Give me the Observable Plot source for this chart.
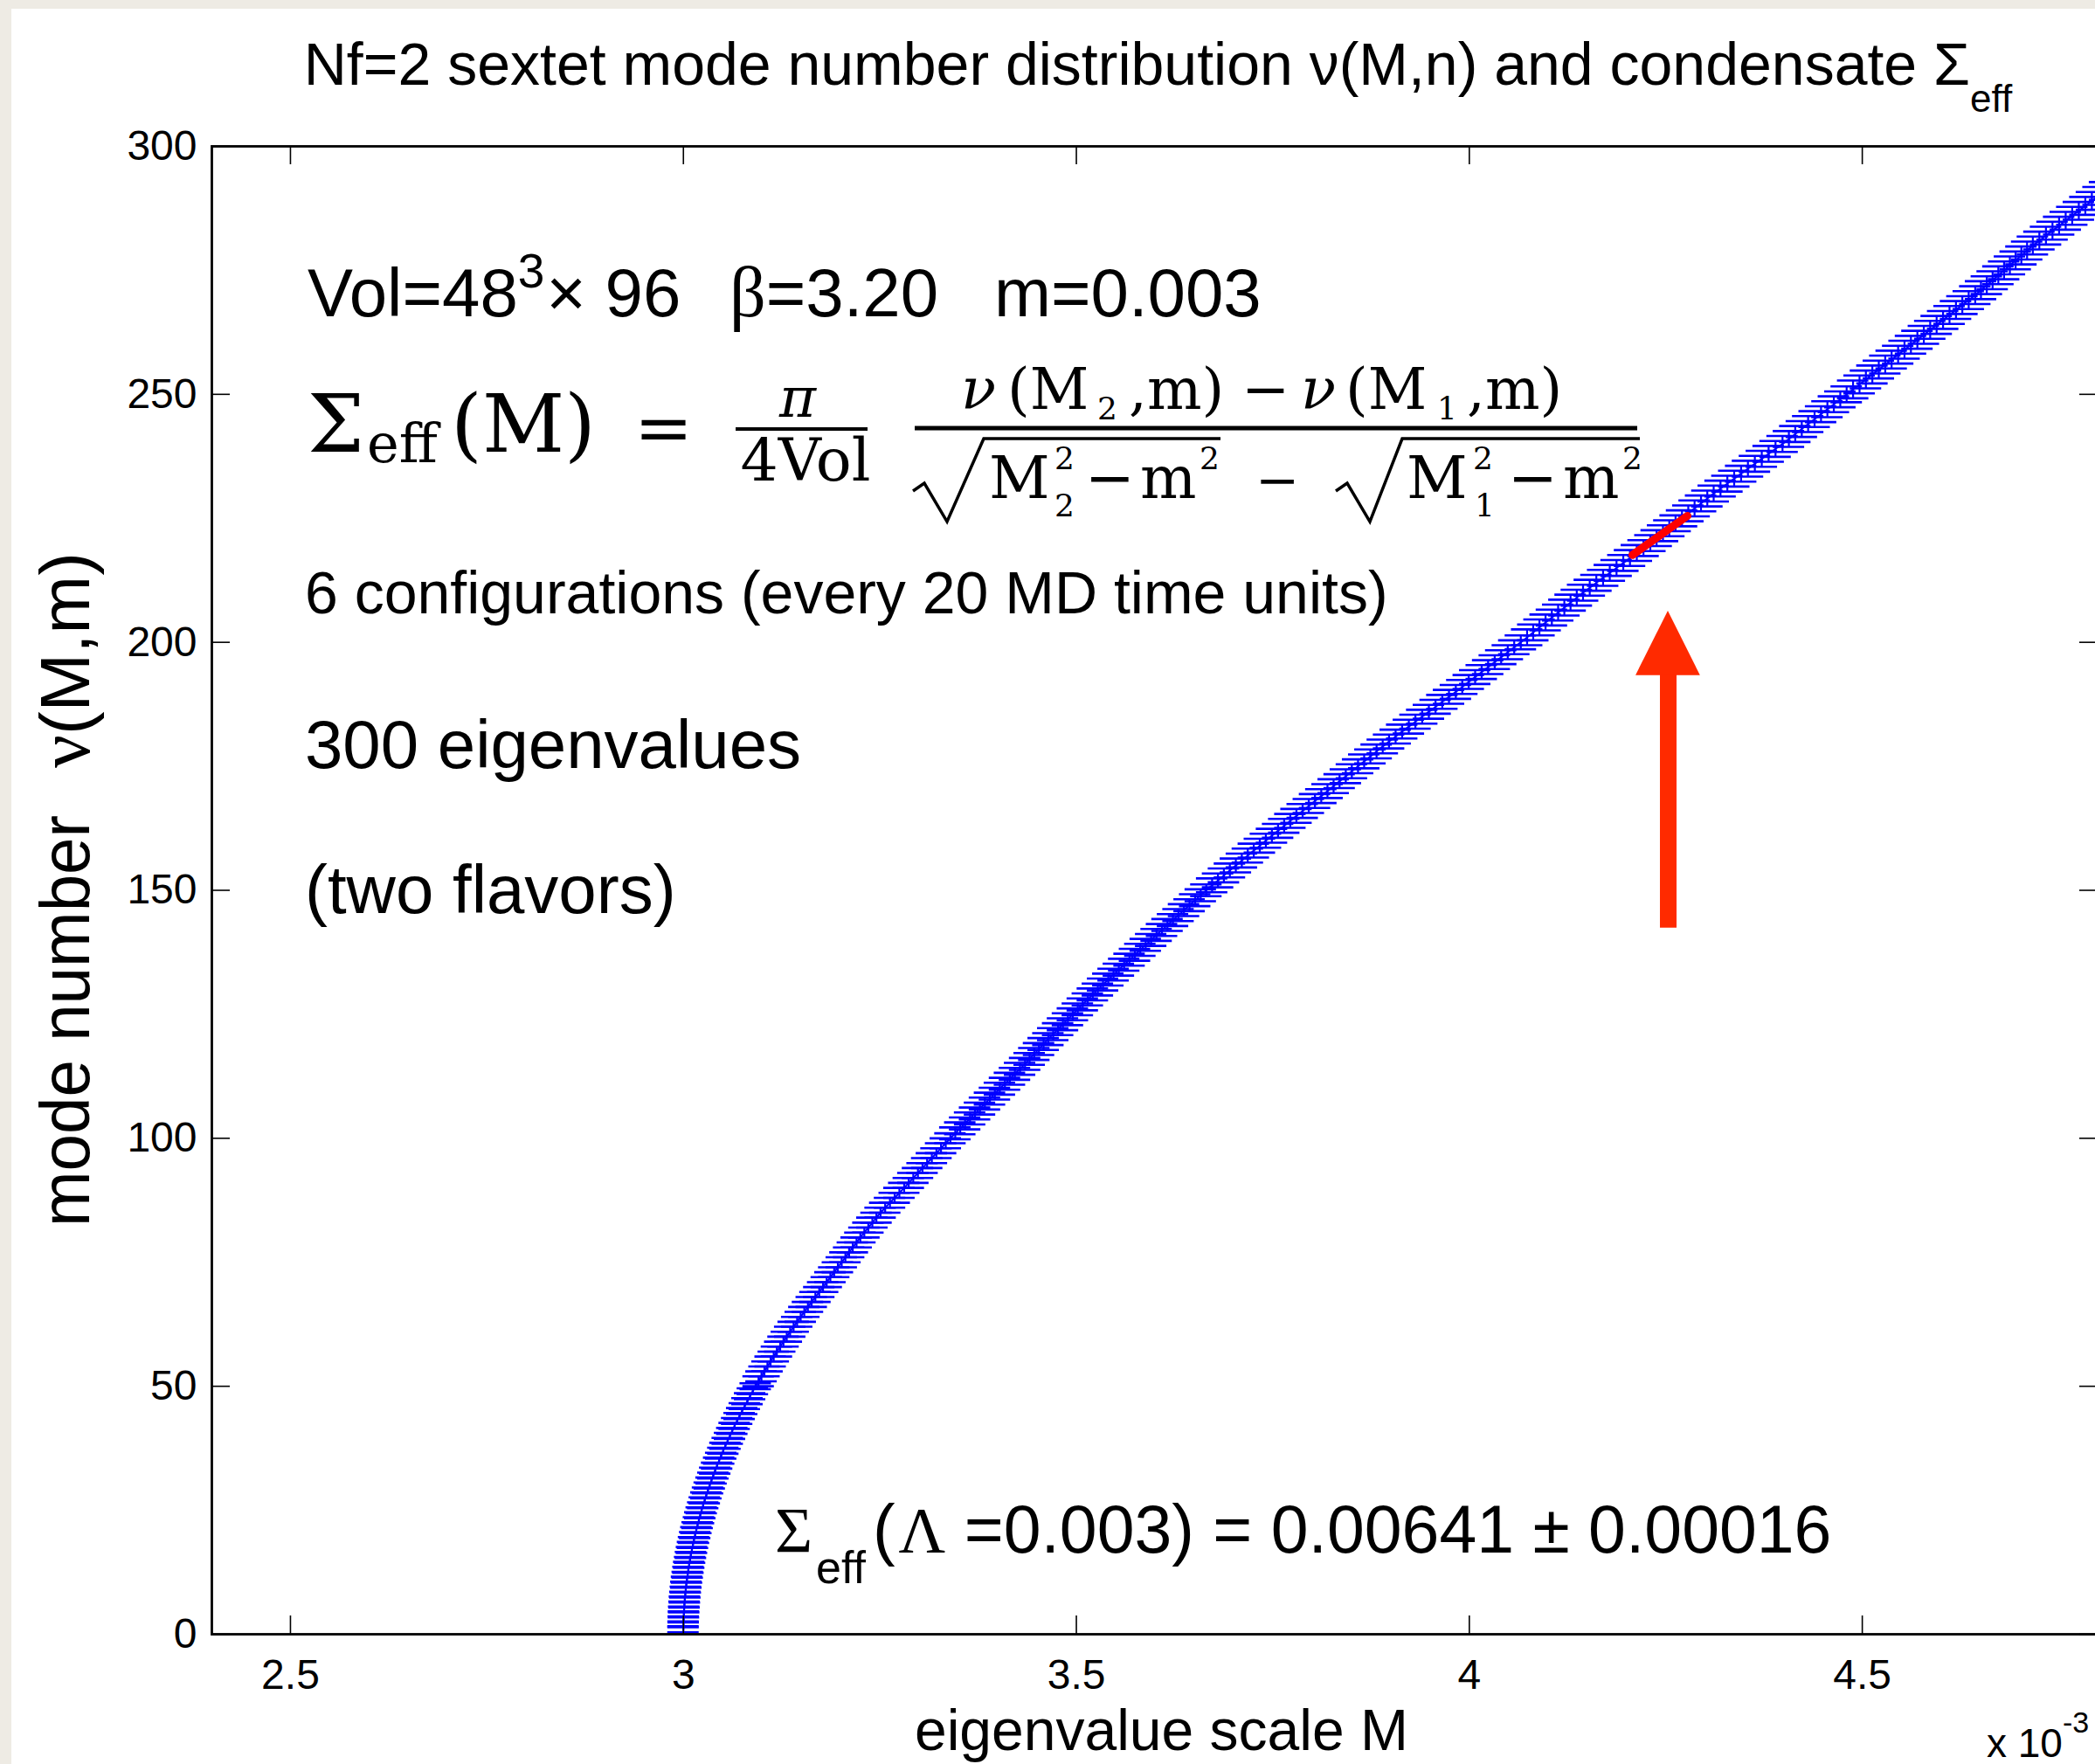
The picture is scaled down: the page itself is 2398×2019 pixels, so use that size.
<!DOCTYPE html>
<html>
<head>
<meta charset="utf-8">
<script src="https://cdn.jsdelivr.net/npm/d3@7"></script>
<script src="https://cdn.jsdelivr.net/npm/@observablehq/plot@0.6"></script>
<style>
  html, body { margin: 0; padding: 0; width: 2398px; height: 2019px; overflow: hidden; background: #eeebe4; }
  #sheet { position: absolute; left: 13px; top: 10px; right: 0; bottom: 0; background: #ffffff; }
  #chart { position: absolute; left: 0; top: 0; }
</style>
</head>
<body>
<div id="sheet"></div>
<div id="chart"></div>
<script>
// Averaged eigenvalue scale M (in units of 1e-3) for mode numbers 1..300
const eigenScale = [
  3.0000, 3.0001, 3.0003, 3.0006, 3.0009, 3.0013, 3.0018, 3.0024, 3.0030, 3.0037,
  3.0045, 3.0054, 3.0063, 3.0073, 3.0084, 3.0095, 3.0108, 3.0121, 3.0134, 3.0149,
  3.0164, 3.0180, 3.0197, 3.0214, 3.0232, 3.0251, 3.0271, 3.0291, 3.0312, 3.0334,
  3.0357, 3.0380, 3.0404, 3.0428, 3.0454, 3.0480, 3.0507, 3.0534, 3.0563, 3.0592,
  3.0621, 3.0651, 3.0683, 3.0714, 3.0747, 3.0780, 3.0814, 3.0848, 3.0883, 3.0919,
  3.0956, 3.0993, 3.1031, 3.1069, 3.1109, 3.1149, 3.1189, 3.1231, 3.1273, 3.1315,
  3.1358, 3.1402, 3.1447, 3.1492, 3.1538, 3.1584, 3.1632, 3.1679, 3.1728, 3.1777,
  3.1823, 3.1870, 3.1918, 3.1965, 3.2014, 3.2061, 3.2108, 3.2155, 3.2203, 3.2251,
  3.2302, 3.2353, 3.2404, 3.2456, 3.2508, 3.2567, 3.2628, 3.2688, 3.2748, 3.2809,
  3.2867, 3.2925, 3.2984, 3.3042, 3.3101, 3.3161, 3.3219, 3.3278, 3.3338, 3.3397,
  3.3459, 3.3522, 3.3584, 3.3647, 3.3710, 3.3773, 3.3836, 3.3900, 3.3963, 3.4026,
  3.4091, 3.4154, 3.4218, 3.4283, 3.4347, 3.4405, 3.4464, 3.4524, 3.4583, 3.4643,
  3.4705, 3.4767, 3.4829, 3.4892, 3.4955, 3.5018, 3.5081, 3.5145, 3.5209, 3.5273,
  3.5339, 3.5406, 3.5473, 3.5540, 3.5608, 3.5676, 3.5745, 3.5813, 3.5882, 3.5951,
  3.6020, 3.6089, 3.6159, 3.6229, 3.6299, 3.6369, 3.6440, 3.6511, 3.6582, 3.6653,
  3.6727, 3.6802, 3.6877, 3.6953, 3.7029, 3.7105, 3.7181, 3.7257, 3.7334, 3.7411,
  3.7488, 3.7566, 3.7644, 3.7722, 3.7800, 3.7879, 3.7957, 3.8036, 3.8116, 3.8195,
  3.8273, 3.8349, 3.8428, 3.8505, 3.8584, 3.8662, 3.8741, 3.8820, 3.8898, 3.8978,
  3.9062, 3.9145, 3.9230, 3.9314, 3.9400, 3.9485, 3.9570, 3.9656, 3.9741, 3.9828,
  3.9910, 3.9992, 4.0074, 4.0157, 4.0239, 4.0323, 4.0405, 4.0489, 4.0571, 4.0655,
  4.0735, 4.0813, 4.0892, 4.0970, 4.1050, 4.1130, 4.1209, 4.1288, 4.1367, 4.1447,
  4.1532, 4.1616, 4.1702, 4.1787, 4.1873, 4.1959, 4.2044, 4.2131, 4.2216, 4.2303,
  4.2383, 4.2464, 4.2544, 4.2624, 4.2706, 4.2786, 4.2866, 4.2948, 4.3028, 4.3109,
  4.3196, 4.3283, 4.3370, 4.3458, 4.3545, 4.3633, 4.3721, 4.3808, 4.3896, 4.3985,
  4.4066, 4.4147, 4.4230, 4.4311, 4.4393, 4.4475, 4.4556, 4.4638, 4.4720, 4.4801,
  4.4883, 4.4965, 4.5046, 4.5128, 4.5210, 4.5292, 4.5373, 4.5456, 4.5537, 4.5619,
  4.5701, 4.5783, 4.5864, 4.5946, 4.6028, 4.6110, 4.6192, 4.6273, 4.6354, 4.6437,
  4.6510, 4.6584, 4.6658, 4.6731, 4.6804, 4.6878, 4.6951, 4.7024, 4.7097, 4.7170,
  4.7253, 4.7337, 4.7420, 4.7504, 4.7588, 4.7671, 4.7755, 4.7838, 4.7921, 4.8005,
  4.8088, 4.8172, 4.8255, 4.8338, 4.8421, 4.8504, 4.8588, 4.8671, 4.8754, 4.8836
];

// Statistical error on the mode number, one value per block of 50 modes
const modeErrorByBlock = [0.6, 1.0, 1.2, 1.4, 1.6, 1.8];

// Half width of the error-bar caps, in units of M
const capHalfWidth = 0.02;

// Fit window used for the condensate (red segment on the curve)
const fitWindow = [
  {M: 4.2075, nu: 217.6},
  {M: 4.2775, nu: 225.5}
];

// Arrow pointing at the fit window
const arrowShaft = [{M: 4.2531, from: 142.4, to: 193.6}];
const arrowHead = [
  {M: 4.212, base: 193.3, tip: 193.3},
  {M: 4.2531, base: 193.3, tip: 206.3},
  {M: 4.294, base: 193.3, tip: 193.3}
];

// Axis ticks
const xTicks = [2.5, 3, 3.5, 4, 4.5];
const yTicks = [0, 50, 100, 150, 200, 250, 300];

const modes = eigenScale.map((M, i) => ({
  M,
  nu: i + 1,
  err: modeErrorByBlock[Math.min(modeErrorByBlock.length - 1, Math.floor(i / 50))]
}));
const caps = modes.flatMap(d => [
  {M: d.M, nu: d.nu - d.err},
  {M: d.M, nu: d.nu + d.err}
]);

const W = 2410, H = 2019;
const mL = 242, mR = 9, mT = 167, mB = 149;
const frameW = W - mL - mR, frameH = H - mT - mB;
const tickLen = 21;
const BLUE = "#0000ff";
const SANS = "'Liberation Sans', Arial, Helvetica, sans-serif";
const SERIF = "'Liberation Serif', 'Times New Roman', serif";
const MATH = "'DejaVu Serif', serif";

const plot = Plot.plot({
  width: W,
  height: H,
  marginLeft: mL,
  marginRight: mR,
  marginTop: mT,
  marginBottom: mB,
  style: {fontFamily: SANS, fontSize: "48px", background: "transparent", maxWidth: "none", overflow: "visible", color: "black"},
  x: {domain: [2.4, 4.8], label: null},
  y: {domain: [0, 300], label: null},
  marks: [
    // error-bar caps
    Plot.ruleY(caps, {y: "nu", x1: d => d.M - capHalfWidth, x2: d => d.M + capHalfWidth, stroke: BLUE, strokeWidth: 2.6, clip: true}),
    // vertical error bars
    Plot.ruleX(modes, {x: "M", y1: d => d.nu - d.err, y2: d => d.nu + d.err, stroke: BLUE, strokeWidth: 2.2, clip: true}),
    // mode number curve
    Plot.line(modes, {x: "M", y: "nu", stroke: BLUE, strokeWidth: 2, clip: true}),
    // fit window
    Plot.line(fitWindow, {x: "M", y: "nu", stroke: "#ff0000", strokeWidth: 9}),
    // arrow
    Plot.ruleX(arrowShaft, {x: "M", y1: "from", y2: "to", stroke: "#ff2a00", strokeWidth: 19}),
    Plot.areaY(arrowHead, {x: "M", y1: "base", y2: "tip", fill: "#ff2a00"}),
    // inward ticks on all four sides
    Plot.gridX(xTicks, {stroke: "black", strokeOpacity: 1, strokeWidth: 1.6, insetTop: frameH - tickLen}),
    Plot.gridX(xTicks, {stroke: "black", strokeOpacity: 1, strokeWidth: 1.6, insetBottom: frameH - tickLen}),
    Plot.gridY(yTicks, {stroke: "black", strokeOpacity: 1, strokeWidth: 1.6, insetRight: frameW - tickLen}),
    Plot.gridY(yTicks, {stroke: "black", strokeOpacity: 1, strokeWidth: 1.6, insetLeft: frameW - tickLen}),
    Plot.frame({stroke: "black", strokeWidth: 2.8}),
    Plot.axisX(xTicks, {anchor: "bottom", tickSize: 0, tickPadding: 28, fontSize: 48, tickFormat: d => String(d), label: null}),
    Plot.axisY(yTicks, {anchor: "left", tickSize: 0, tickPadding: 17, fontSize: 48, tickFormat: d => String(d), label: null})
  ]
});
document.getElementById("chart").append(plot);

const X = plot.scale("x"), Y = plot.scale("y");
const fL = X.apply(2.4), fR = X.apply(4.8), fT = Y.apply(300), fB = Y.apply(0);
const svg = d3.select(plot);
const ann = svg.append("g").attr("fill", "black").attr("text-anchor", "start");

function txt(g, x, y, size, family, anchor = "start") {
  return g.append("text").attr("x", x).attr("y", y)
    .attr("font-size", size).attr("font-family", family).attr("text-anchor", anchor);
}
function span(t, str, opts = {}) {
  const s = t.append("tspan").text(str);
  for (const [k, v] of Object.entries(opts)) s.attr(k, v);
  return s;
}

// Title
{
  const t = txt(ann, (fL + fR) / 2 + 4, fT - 70, 68, SANS, "middle");
  span(t, "Nf=2 sextet mode number distribution ν(M,n) and condensate Σ");
  span(t, "eff", {"font-size": 44, dy: 31});
}

// Axis labels
txt(ann, (fL + fR) / 2 + 8, fB + 133, 66, SANS, "middle").text("eigenvalue scale M");
{
  const yl = fL - 140;
  txt(ann, yl, fB - 466, 80, SANS).attr("transform", `rotate(-90,${yl},${fB - 466})`)
    .attr("textLength", 471).attr("lengthAdjust", "spacingAndGlyphs").text("mode number");
  const t = txt(ann, yl, fB - 991, 80, SANS).attr("transform", `rotate(-90,${yl},${fB - 991})`);
  span(t, "ν", {"font-family": SERIF, "font-size": 84});
  span(t, "(M,m)");
}
{
  const t = txt(ann, fR - 127, fB + 141, 46, SANS);
  span(t, "x 10");
  span(t, "-3", {"font-size": 34, dy: -28});
}

// Run parameters
{
  const x0 = X.apply(2.5223), y0 = Y.apply(265.65);
  const t = txt(ann, x0, y0, 78, SANS);
  span(t, "Vol=48");
  span(t, "3", {"font-size": 55, dy: -33});
  span(t, "× 96", {dy: 33, dx: 2});
  span(t, "β", {x: x0 + 483, "font-family": SERIF, "font-size": 82});
  span(t, "=3.20");
  span(t, "m=0.003", {x: x0 + 786});
}

// Effective condensate definition
{
  const ox = X.apply(2.5223), oy = Y.apply(238.34);
  const f = ann.append("g").attr("transform", `translate(${ox},${oy})`)
    .attr("font-family", MATH).attr("text-anchor", "start");
  const put = (str, x, y, size, opts = {}) => {
    const t = f.append("text").attr("x", x).attr("y", y).attr("font-size", size).text(str);
    for (const [k, v] of Object.entries(opts)) t.attr(k, v);
    return t;
  };
  put("Σ", 0, 0, 92);
  put("eff", 68, 12, 62);
  put("(M)", 164, 0, 92);
  put("=", 374, 0, 80);
  put("π", 561, -40, 64, {"font-style": "italic", "text-anchor": "middle"});
  f.append("rect").attr("x", 490).attr("y", -28).attr("width", 151).attr("height", 4);
  put("4Vol", 570, 33, 68, {"text-anchor": "middle"});
  f.append("rect").attr("x", 695).attr("y", -29.5).attr("width", 827).attr("height", 5);
  // numerator
  put("ν", 748, -49, 66, {"font-style": "italic"});
  put("(M", 801, -49, 66);
  put("2", 904, -37, 36);
  put(",m)", 940, -49, 66);
  put("−", 1069, -49, 66);
  put("ν", 1137, -49, 66, {"font-style": "italic"});
  put("(M", 1188, -49, 66);
  put("1", 1293, -37, 36);
  put(",m)", 1327, -49, 66);
  // denominator
  const radical = (pts) => f.append("path")
    .attr("d", d3.line()(pts)).attr("fill", "none").attr("stroke", "black")
    .attr("stroke-width", 3.5).attr("stroke-linejoin", "miter");
  radical([[693, 45], [706, 36], [732, 80], [774, -15], [1045, -15]]);
  put("M", 780, 53, 68);
  put("2", 855, 20, 36);
  put("2", 855, 74, 36);
  put("−", 890, 53, 68);
  put("m", 953, 53, 68);
  put("2", 1021, 20, 36);
  put("−", 1085, 53, 60);
  radical([[1177, 45], [1190, 36], [1216, 80], [1253, -15], [1525, -15]]);
  put("M", 1258, 53, 68);
  put("2", 1334, 20, 36);
  put("1", 1336, 74, 36);
  put("−", 1374, 53, 68);
  put("m", 1437, 53, 68);
  put("2", 1505, 20, 36);
}

// Ensemble notes
txt(ann, X.apply(2.5189), Y.apply(205.75), 68, SANS).text("6 configurations (every 20 MD time units)");
txt(ann, X.apply(2.5189), Y.apply(174.57), 78, SANS).text("300 eigenvalues");
txt(ann, X.apply(2.5189), Y.apply(145.33), 78, SANS).text("(two flavors)");

// Condensate result
{
  const t = txt(ann, X.apply(3.117), Y.apply(16.38), 77, SANS);
  span(t, "Σ", {"font-family": SERIF, "font-size": 74});
  span(t, "eff", {"font-size": 52, dy: 35, dx: 4});
  span(t, "(", {dy: -35, dx: 8});
  span(t, "Λ", {"font-family": SERIF, "font-size": 74, dx: 4});
  span(t, " =0.003) = 0.00641 ± 0.00016");
}
</script>
</body>
</html>
